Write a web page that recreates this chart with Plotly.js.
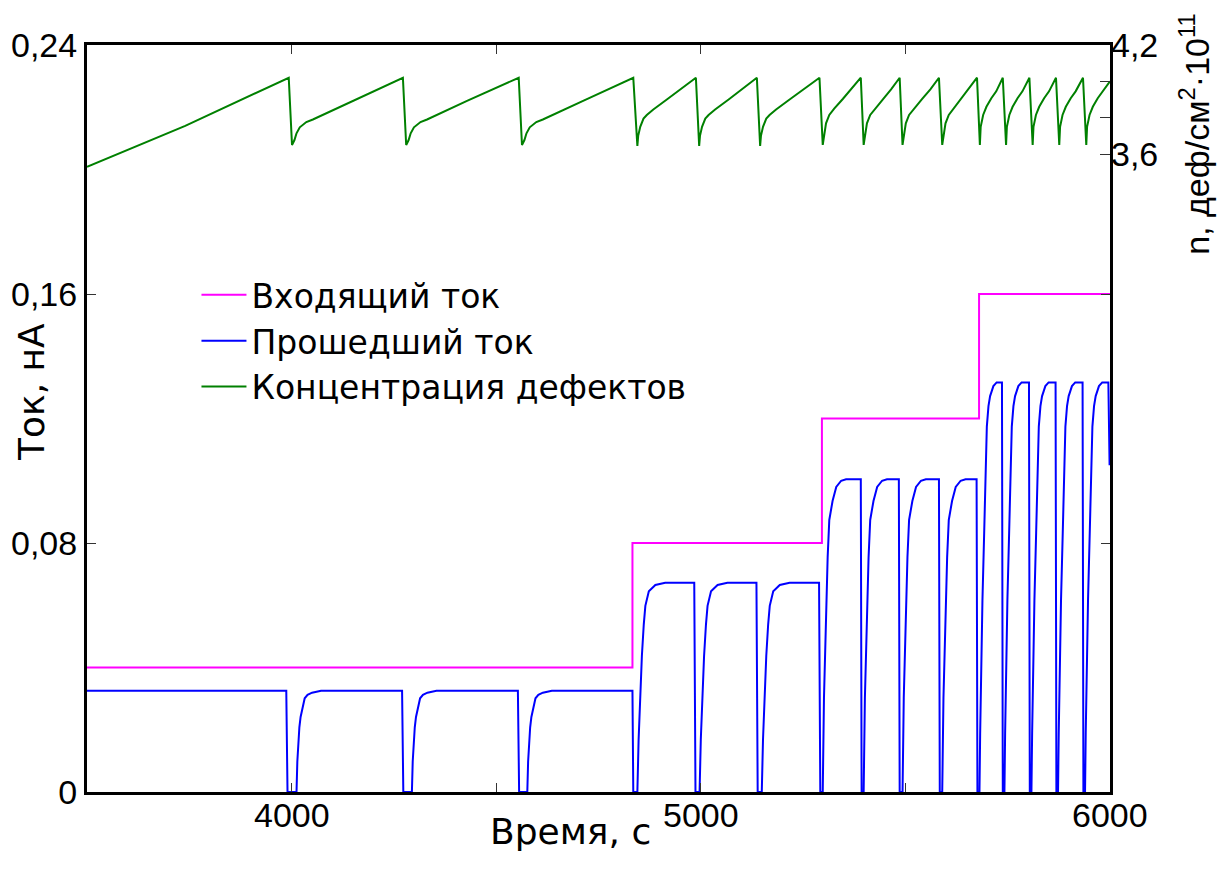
<!DOCTYPE html>
<html>
<head>
<meta charset="utf-8">
<script src="https://cdn.plot.ly/plotly-3.0.1.min.js"></script>
<style>
  html, body { margin: 0; padding: 0; background: #ffffff; }
  #chart { width: 1222px; height: 873px; }
</style>
</head>
<body>
<div id="chart"></div>
<script>
// Incoming beam current, nA (stepwise, drawn with 'hv' steps)
const incomingT = [3500, 4833, 5296, 5680, 6000];
const incomingI = [0.04, 0.08, 0.12, 0.16, 0.16];

// Transmitted current, nA: one row per interruption/recovery cycle
const transmittedT = [
  3500, 3987, 3990,
  4012, 4014, 4016, 4019, 4022, 4027, 4032, 4039, 4050, 4072, 4270, 4273,
  4294, 4296, 4298, 4301, 4304, 4309, 4314, 4321, 4332, 4354, 4553, 4556,
  4576, 4578, 4580, 4583, 4586, 4591, 4596, 4603, 4614, 4636, 4833, 4835,
  4845, 4848, 4851.5, 4856, 4860.6, 4864.5, 4873, 4889, 4913, 4984, 4987,
  4997, 5000, 5003.5, 5008, 5012.6, 5016.5, 5025, 5041, 5065, 5136, 5139,
  5149, 5152, 5155.5, 5160, 5164.6, 5168.5, 5177, 5193, 5217, 5289, 5292,
  5298, 5301, 5306, 5310, 5314, 5322, 5331, 5343, 5355, 5391, 5393,
  5398, 5401, 5406, 5410, 5414, 5422, 5431, 5443, 5455, 5484, 5486,
  5493, 5496, 5501, 5505, 5509, 5517, 5526, 5538, 5550, 5582, 5584,
  5590, 5593, 5598, 5602, 5606, 5614, 5623, 5635, 5647, 5674, 5676,
  5681, 5682.7, 5685.2, 5688.3, 5692.5, 5696.6, 5699, 5703, 5707, 5711, 5715, 5723, 5736, 5738,
  5742, 5743.7, 5746.2, 5749.3, 5753.5, 5757.6, 5760, 5764, 5768, 5772, 5776, 5784, 5802, 5804,
  5808, 5809.7, 5812.2, 5815.3, 5819.5, 5823.6, 5826, 5830, 5834, 5838, 5842, 5850, 5867, 5869,
  5873, 5874.7, 5877.2, 5880.3, 5884.5, 5888.6, 5891, 5895, 5899, 5903, 5907, 5915, 5933, 5935,
  5939, 5940.7, 5943.2, 5946.3, 5950.5, 5954.6, 5957, 5961, 5965, 5969, 5973, 5981, 5996, 5999
];
const transmittedI = [
  0.0325, 0.0325, 0,
  0, 0.0098, 0.0166, 0.0208, 0.0241, 0.0275, 0.0301, 0.0312, 0.0319, 0.0325, 0.0325, 0,
  0, 0.0098, 0.0166, 0.0208, 0.0241, 0.0275, 0.0301, 0.0312, 0.0319, 0.0325, 0.0325, 0,
  0, 0.0098, 0.0166, 0.0208, 0.0241, 0.0275, 0.0301, 0.0312, 0.0319, 0.0325, 0.0325, 0,
  0, 0.0168, 0.0296, 0.0437, 0.0538, 0.0598, 0.0645, 0.0665, 0.0672, 0.0672, 0,
  0, 0.0168, 0.0296, 0.0437, 0.0538, 0.0598, 0.0645, 0.0665, 0.0672, 0.0672, 0,
  0, 0.0168, 0.0296, 0.0437, 0.0538, 0.0598, 0.0645, 0.0665, 0.0672, 0.0672, 0,
  0, 0.0302, 0.0573, 0.0754, 0.0874, 0.0935, 0.098, 0.1, 0.1005, 0.1005, 0,
  0, 0.0302, 0.0573, 0.0754, 0.0874, 0.0935, 0.098, 0.1, 0.1005, 0.1005, 0,
  0, 0.0302, 0.0573, 0.0754, 0.0874, 0.0935, 0.098, 0.1, 0.1005, 0.1005, 0,
  0, 0.0302, 0.0573, 0.0754, 0.0874, 0.0935, 0.098, 0.1, 0.1005, 0.1005, 0,
  0, 0.0188, 0.0403, 0.0617, 0.0832, 0.1045, 0.1174, 0.124, 0.1272, 0.1288, 0.1304, 0.1316, 0.1316, 0,
  0, 0.0188, 0.0403, 0.0617, 0.0832, 0.1045, 0.1174, 0.124, 0.1272, 0.1288, 0.1304, 0.1316, 0.1316, 0,
  0, 0.0188, 0.0403, 0.0617, 0.0832, 0.1045, 0.1174, 0.124, 0.1272, 0.1288, 0.1304, 0.1316, 0.1316, 0,
  0, 0.0188, 0.0403, 0.0617, 0.0832, 0.1045, 0.1174, 0.124, 0.1272, 0.1288, 0.1304, 0.1316, 0.1316, 0,
  0, 0.0188, 0.0403, 0.0617, 0.0832, 0.1045, 0.1174, 0.124, 0.1272, 0.1288, 0.1304, 0.1316, 0.1316, 0.105
];

// Defect concentration, 10^11 def/cm^2 (right axis)
const defectsT = [
  3500, 3740, 3993, 4001,
  4007, 4012, 4020, 4036, 4052, 4150, 4272, 4280,
  4286, 4291, 4299, 4315, 4331, 4430, 4555, 4563,
  4569, 4574, 4582, 4598, 4614, 4715, 4835, 4845,
  4847, 4852, 4860, 4868, 4884, 4917, 4955, 4988, 4996,
  4998, 5003, 5011, 5019, 5035, 5068, 5106, 5137, 5145,
  5147, 5152, 5160, 5168, 5184, 5217, 5256, 5290, 5298,
  5302, 5306, 5314, 5326, 5347, 5367, 5391, 5398,
  5402, 5406, 5414, 5426, 5446, 5465, 5486, 5493,
  5497, 5501, 5509, 5521, 5541, 5561, 5582, 5590,
  5594, 5598, 5606, 5618, 5637, 5655, 5675, 5682,
  5684, 5690, 5698, 5710, 5722, 5738, 5746,
  5748, 5754, 5762, 5774, 5786, 5803, 5811,
  5813, 5819, 5827, 5839, 5851, 5868, 5876,
  5878, 5884, 5892, 5904, 5916, 5934, 5942,
  5944, 5950, 5958, 5970, 5982, 6000
];
const defectsN = [
  3.53, 3.755, 4.02, 3.65,
  3.677, 3.714, 3.747, 3.776, 3.79, 3.893, 4.02, 3.65,
  3.677, 3.714, 3.747, 3.776, 3.79, 3.894, 4.02, 3.65,
  3.677, 3.714, 3.747, 3.776, 3.79, 3.895, 4.02, 3.645,
  3.70, 3.75, 3.795, 3.815, 3.845, 3.90, 3.965, 4.02, 3.645,
  3.70, 3.75, 3.795, 3.815, 3.845, 3.90, 3.965, 4.02, 3.645,
  3.70, 3.75, 3.795, 3.815, 3.845, 3.90, 3.965, 4.02, 3.65,
  3.714, 3.769, 3.815, 3.85, 3.903, 3.956, 4.02, 3.65,
  3.714, 3.769, 3.815, 3.85, 3.903, 3.956, 4.02, 3.65,
  3.714, 3.769, 3.815, 3.85, 3.903, 3.956, 4.02, 3.65,
  3.714, 3.769, 3.815, 3.85, 3.903, 3.956, 4.02, 3.65,
  3.75, 3.815, 3.86, 3.907, 3.945, 4.02, 3.65,
  3.75, 3.815, 3.86, 3.907, 3.945, 4.02, 3.65,
  3.75, 3.815, 3.86, 3.907, 3.945, 4.02, 3.65,
  3.75, 3.815, 3.86, 3.907, 3.945, 4.02, 3.65,
  3.75, 3.815, 3.86, 3.907, 3.945, 4.0
];

// Axis ticks and labels
const timeTicks = [4000, 5000, 6000];
const timeLabels = ['4000', '5000', '6000'];
const timeMinorTicks = [4500, 5500];
const currentTicks = [0, 0.08, 0.16, 0.24];
const currentLabels = ['0', '0,08', '0,16', '0,24'];
const defectTicks = [3.6, 4.2];
const defectLabels = ['3,6', '4,2'];
const defectMinorTicks = [3.8, 4.0];

const seriesNames = ['Входящий ток', 'Прошедший ток', 'Концентрация дефектов'];
const timeTitle = 'Время, с';
const currentTitle = 'Ток, нА';
const defectTitle = 'n, деф/см<sup>2</sup>·10<sup>11</sup>';

const FONT = 'Liberation Sans, Arial, sans-serif';
const WIDE_FONT = 'DejaVu Sans, Liberation Sans, sans-serif';

const traces = [
  {
    x: incomingT, y: incomingI, name: seriesNames[0],
    type: 'scatter', mode: 'lines', line: { color: '#ff00ff', width: 2, shape: 'hv' },
    yaxis: 'y'
  },
  {
    x: transmittedT, y: transmittedI, name: seriesNames[1],
    type: 'scatter', mode: 'lines', line: { color: '#0000ff', width: 2 },
    yaxis: 'y'
  },
  {
    x: defectsT, y: defectsN, name: seriesNames[2],
    type: 'scatter', mode: 'lines', line: { color: '#008000', width: 2 },
    yaxis: 'y2'
  }
];

// Time tick labels sit just under the frame, as text anchored to the data axis
const timeLabelNotes = timeTicks.map((t, i) => ({
  xref: 'x', yref: 'paper', x: t, y: 0,
  xanchor: 'center', yanchor: 'middle', yshift: -23,
  showarrow: false, text: timeLabels[i],
  font: { family: FONT, size: 34, color: '#000000' }
}));

const layout = {
  width: 1222,
  height: 873,
  margin: { l: 87, r: 112, t: 45, b: 81 },
  paper_bgcolor: '#ffffff',
  plot_bgcolor: '#ffffff',
  font: { family: FONT, size: 34, color: '#000000' },
  showlegend: true,
  legend: {
    x: 0.107, y: 0.703, xanchor: 'left', yanchor: 'top',
    bgcolor: 'rgba(0,0,0,0)', borderwidth: 0,
    font: { family: WIDE_FONT, size: 33, color: '#000000' },
    itemwidth: 45
  },
  xaxis: {
    range: [3500, 6000],
    tickvals: timeTicks, showticklabels: false,
    ticks: 'inside', ticklen: 9, tickwidth: 1, tickcolor: '#333333',
    minor: { tickvals: timeMinorTicks, ticks: 'inside', ticklen: 9, tickwidth: 1, tickcolor: '#333333', showgrid: false },
    showline: true, linewidth: 3, linecolor: '#000000', mirror: 'ticks',
    showgrid: false, zeroline: false
  },
  yaxis: {
    range: [0, 0.24],
    tickvals: currentTicks, ticktext: currentLabels,
    ticks: 'inside', ticklen: 9, tickwidth: 1, tickcolor: '#333333',
    showline: true, linewidth: 3, linecolor: '#000000', mirror: 'ticks',
    showgrid: false, zeroline: false,
    tickfont: { family: FONT, size: 34 }
  },
  yaxis2: {
    overlaying: 'y', side: 'right',
    range: [0.09, 4.2],
    tickvals: defectTicks, ticktext: defectLabels,
    ticks: 'inside', ticklen: 10, tickwidth: 1, tickcolor: '#333333',
    minor: { tickvals: defectMinorTicks, ticks: 'inside', ticklen: 10, tickwidth: 1, tickcolor: '#333333', showgrid: false },
    showline: false, showgrid: false, zeroline: false,
    tickfont: { family: FONT, size: 34 }
  },
  annotations: timeLabelNotes.concat([
    {
      xref: 'paper', yref: 'paper', x: 0.473, y: 0, yshift: -39,
      xanchor: 'center', yanchor: 'middle', showarrow: false,
      text: timeTitle,
      font: { family: WIDE_FONT, size: 36, color: '#000000' }
    },
    {
      xref: 'paper', yref: 'paper', x: -0.054, y: 0.535,
      xanchor: 'center', yanchor: 'middle', textangle: -90, showarrow: false,
      text: currentTitle,
      font: { family: WIDE_FONT, size: 36, color: '#000000' }
    },
    {
      xref: 'paper', yref: 'paper', x: 1.083, y: 1.045,
      xanchor: 'center', yanchor: 'top', textangle: -90, showarrow: false,
      text: defectTitle,
      font: { family: FONT, size: 34, color: '#000000' }
    }
  ])
};

Plotly.newPlot('chart', traces, layout, { staticPlot: true, displayModeBar: false });
</script>
</body>
</html>
